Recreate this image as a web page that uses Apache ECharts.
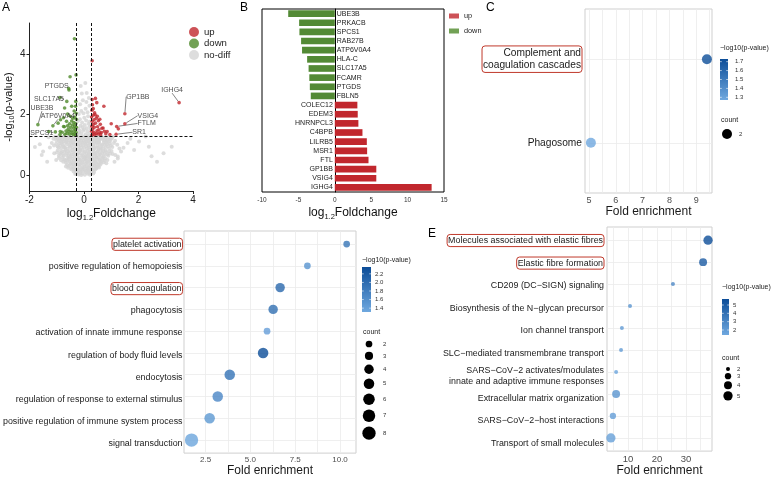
<!DOCTYPE html>
<html><head><meta charset="utf-8">
<script src="https://cdn.jsdelivr.net/npm/echarts@6/dist/echarts.min.js"></script>
<style>html,body{margin:0;padding:0;background:#fff}#c{width:778px;height:478px}</style>
</head><body><div id="c"></div>
<script>
// ================= DATA =================
// Panel A: volcano
const volcanoUp = [[0.30,3.79],[0.30,2.50],[0.42,2.54],[0.73,2.28],[0.31,2.33],[0.39,2.06],[1.26,1.53],[1.0,1.7],[0.85,1.44],[0.70,1.56],[0.64,1.41],[0.95,1.34],
 [0.29,1.32],[0.33,1.37],[0.28,1.45],[0.36,1.42],[0.31,1.52],[0.40,1.33],[0.45,1.38],[0.38,1.58],[0.48,1.47],[0.52,1.36],[0.29,1.62],[0.34,1.68],[0.42,1.72],[0.50,1.60],[0.55,1.50],[0.58,1.40],[0.61,1.33],[0.30,1.78],[0.37,1.83],[0.45,1.88],[0.53,1.80],[0.60,1.68],[0.66,1.55],[0.28,1.92],[0.33,1.98],[0.41,2.00],[0.49,1.95],[0.58,1.85],[0.34,2.20],[0.29,2.15],[0.47,2.40],[0.75,1.45],[0.80,1.37]];
const volcanoDown = [[-0.30,1.32],[-0.33,1.36],[-0.29,1.41],[-0.36,1.45],[-0.31,1.50],[-0.40,1.34],[-0.44,1.39],[-0.38,1.55],[-0.47,1.47],[-0.52,1.35],[-0.28,1.58],[-0.34,1.62],[-0.42,1.66],[-0.49,1.58],[-0.55,1.44],[-0.58,1.52],[-0.62,1.38],[-0.30,1.70],[-0.37,1.74],[-0.45,1.79],[-0.53,1.70],[-0.60,1.63],[-0.66,1.46],[-0.70,1.35],[-0.28,1.85],[-0.33,1.92],[-0.41,1.88],[-0.50,1.95],[-0.64,1.78],[-0.72,1.60],[-0.29,2.05],[-0.36,2.12],[-0.31,2.28],[-0.45,2.28],[-0.30,2.44],[-0.63,2.44],[-0.71,2.22],[-0.60,2.02],[-0.86,1.83],[-0.75,1.90],[-0.95,1.72],[-0.80,1.42],[-1.05,1.43],[-0.87,1.44],[-0.75,1.61],[-0.88,1.34],[-0.55,2.82],[-0.51,3.26],[-0.29,3.32],[-0.35,4.52]];
const volcanoNoDiff = [[-0.32,0.03],[-0.25,0.08],[-0.19,0.02],[-0.13,0.11],[-0.07,0.05],[-0.02,0.13],[0.03,0.01],[0.08,0.09],[0.14,0.04],[0.19,0.12],[0.25,0.06],[0.31,0.14],[-0.28,0.13],[0.11,0.15],[-0.10,0.00],[0.22,0.01],[0.37,0.10],[-0.38,0.12],
 [-0.55,0.30],[-0.47,0.19],[-0.41,0.27],[-0.35,0.17],[-0.30,0.33],[-0.23,0.22],[-0.17,0.30],[-0.11,0.18],[-0.05,0.26],[0.00,0.34],[0.05,0.20],[0.10,0.29],[0.16,0.17],[0.21,0.31],[0.27,0.24],[0.33,0.19],[0.39,0.32],[0.45,0.22],[0.51,0.28],[0.58,0.33],[-0.62,0.34],[-0.20,0.16],[0.13,0.24],[-0.38,0.35],
 [-0.72,0.52],[-0.66,0.41],[-0.59,0.56],[-0.53,0.45],[-0.48,0.38],[-0.43,0.55],[-0.37,0.47],[-0.31,0.40],[-0.26,0.58],[-0.21,0.44],[-0.15,0.51],[-0.09,0.39],[-0.04,0.57],[0.02,0.46],[0.07,0.53],[0.12,0.41],[0.18,0.59],[0.23,0.48],[0.29,0.37],[0.34,0.54],[0.40,0.45],[0.46,0.58],[0.52,0.40],[0.57,0.51],[0.63,0.44],[0.69,0.57],[0.75,0.48],[-0.80,0.58],[0.82,0.39],[-1.35,0.44],[1.12,0.44],[1.24,0.55],[-1.02,0.50],
 [-0.88,0.70],[-0.81,0.78],[-0.75,0.64],[-0.69,0.83],[-0.63,0.72],[-0.57,0.62],[-0.51,0.80],[-0.46,0.68],[-0.40,0.76],[-0.34,0.63],[-0.28,0.84],[-0.22,0.71],[-0.16,0.79],[-0.10,0.65],[-0.05,0.82],[0.01,0.73],[0.06,0.61],[0.12,0.80],[0.17,0.69],[0.22,0.77],[0.28,0.64],[0.33,0.84],[0.39,0.72],[0.44,0.61],[0.50,0.79],[0.56,0.67],[0.61,0.83],[0.67,0.74],[0.73,0.62],[0.79,0.81],[0.86,0.69],[0.93,0.78],[-0.96,0.82],[-1.09,0.72],[-1.50,0.78],[-1.55,0.66],[1.36,0.78],[1.24,0.61],[1.05,0.70],[1.84,0.83],[2.92,0.72],[2.68,0.44],[2.48,0.62],
 [-0.97,0.95],[-0.90,1.05],[-0.84,0.88],[-0.78,1.00],[-0.72,0.92],[-0.66,1.08],[-0.60,0.87],[-0.54,0.98],[-0.48,1.06],[-0.42,0.90],[-0.36,1.02],[-0.30,0.94],[-0.24,1.09],[-0.18,0.86],[-0.12,0.99],[-0.06,1.07],[0.00,0.91],[0.05,1.03],[0.11,0.88],[0.16,0.97],[0.22,1.08],[0.27,0.93],[0.33,1.01],[0.38,0.87],[0.44,1.05],[0.50,0.96],[0.55,1.09],[0.61,0.89],[0.67,1.00],[0.73,1.07],[0.79,0.92],[0.85,1.02],[0.92,0.88],[0.99,0.98],[-1.10,0.98],[-1.25,0.91],[-1.62,1.02],[-1.80,0.93],[1.10,1.06],[1.60,1.06],[2.38,0.94],[3.22,0.94],[2.02,1.11],[1.45,0.90],
 [-0.98,1.22],[-0.92,1.14],[-0.86,1.27],[-0.80,1.18],[-0.74,1.12],[-0.68,1.25],[-0.62,1.16],[-0.56,1.28],[-0.50,1.13],[-0.44,1.21],[-0.38,1.27],[-0.32,1.15],[-0.26,1.24],[-0.20,1.12],[-0.14,1.19],[-0.08,1.28],[-0.02,1.14],[0.04,1.23],[0.09,1.11],[0.15,1.26],[0.20,1.17],[0.26,1.29],[0.32,1.13],[0.37,1.22],[0.43,1.16],[0.49,1.27],[0.54,1.12],[0.60,1.20],[0.66,1.26],[0.72,1.15],[0.78,1.23],[0.84,1.13],[0.91,1.25],[0.98,1.17],[1.06,1.28],[-1.12,1.20],[-1.30,1.25],[2.26,1.28],[1.70,1.20],[-0.72,1.29],[0.12,1.29],
 [-0.24,1.35],[-0.18,1.42],[-0.10,1.38],[-0.03,1.47],[0.05,1.34],[0.12,1.44],[0.19,1.37],[0.24,1.52],[-0.21,1.55],[-0.12,1.63],[-0.05,1.58],[0.03,1.66],[0.10,1.55],[0.17,1.70],[0.22,1.62],[-0.23,1.78],[-0.15,1.85],[-0.07,1.74],[0.01,1.90],[0.08,1.81],[0.15,1.95],[0.21,1.77],[-0.19,2.02],[-0.10,2.12],[-0.02,2.05],[0.06,2.20],[0.13,2.08],[0.20,2.30],[-0.14,2.35],[-0.04,2.48],[0.09,2.42],[0.18,2.55],[-0.08,2.70],[0.10,2.72],[-0.12,2.95],[0.05,3.05],[-0.16,1.48],[0.00,1.52],[0.14,1.28],
 [-0.28,0.06],[-0.21,0.14],[-0.15,0.07],[-0.04,0.18],[0.06,0.13],[0.16,0.08],[0.27,0.17],[0.34,0.05],[-0.36,0.20],[0.41,0.19],
 [-0.58,0.24],[-0.50,0.36],[-0.44,0.23],[-0.33,0.26],[-0.26,0.37],[-0.14,0.35],[-0.08,0.22],[0.02,0.27],[0.08,0.37],[0.19,0.23],[0.24,0.36],[0.30,0.29],[0.36,0.38],[0.42,0.27],[0.48,0.35],[0.55,0.25],[0.62,0.37],[-0.66,0.28],
 [-0.76,0.44],[-0.69,0.49],[-0.62,0.47],[-0.56,0.52],[-0.50,0.59],[-0.45,0.46],[-0.40,0.41],[-0.34,0.58],[-0.28,0.49],[-0.18,0.56],[-0.12,0.47],[-0.06,0.43],[-0.01,0.52],[0.04,0.59],[0.10,0.49],[0.15,0.45],[0.21,0.55],[0.26,0.43],[0.31,0.57],[0.37,0.50],[0.43,0.42],[0.49,0.52],[0.54,0.59],[0.60,0.47],[0.66,0.53],[0.72,0.42],[0.78,0.55],[0.86,0.50],[-0.84,0.49],[-0.92,0.56],
 [-0.92,0.64],[-0.85,0.75],[-0.78,0.70],[-0.72,0.77],[-0.66,0.66],[-0.60,0.79],[-0.54,0.71],[-0.48,0.63],[-0.43,0.82],[-0.37,0.70],[-0.31,0.77],[-0.25,0.66],[-0.19,0.74],[-0.13,0.84],[-0.07,0.70],[-0.02,0.62],[0.03,0.79],[0.09,0.71],[0.14,0.64],[0.20,0.84],[0.25,0.72],[0.31,0.68],[0.36,0.78],[0.42,0.67],[0.47,0.73],[0.53,0.84],[0.59,0.71],[0.64,0.64],[0.70,0.79],[0.76,0.70],[0.82,0.76],[0.89,0.64],[0.96,0.71],[-0.99,0.75],[1.01,0.80],[1.15,0.66],
 [-1.02,1.04],[-0.94,0.92],[-0.87,0.99],[-0.81,1.08],[-0.75,0.95],[-0.69,0.90],[-0.63,1.02],[-0.57,1.08],[-0.51,0.93],[-0.45,1.00],[-0.39,1.08],[-0.33,0.88],[-0.27,1.01],[-0.21,0.96],[-0.15,1.06],[-0.09,0.92],[-0.03,1.00],[0.02,1.09],[0.08,0.95],[0.13,1.05],[0.19,0.91],[0.24,1.02],[0.30,1.08],[0.35,0.95],[0.41,0.92],[0.47,1.09],[0.52,0.90],[0.58,1.03],[0.64,0.95],[0.70,0.88],[0.76,1.00],[0.82,1.09],[0.88,0.95],[0.95,1.05],[1.04,0.93],[-1.18,1.06],[1.22,1.00],[1.30,0.88],
 [-1.01,1.15],[-0.95,1.28],[-0.89,1.20],[-0.83,1.11],[-0.77,1.26],[-0.71,1.19],[-0.65,1.13],[-0.59,1.22],[-0.53,1.27],[-0.47,1.17],[-0.41,1.12],[-0.35,1.24],[-0.29,1.19],[-0.23,1.29],[-0.17,1.24],[-0.11,1.14],[-0.05,1.22],[0.01,1.27],[0.07,1.18],[0.12,1.22],[0.18,1.13],[0.23,1.24],[0.29,1.18],[0.34,1.28],[0.40,1.12],[0.46,1.21],[0.52,1.25],[0.57,1.16],[0.63,1.29],[0.69,1.21],[0.75,1.13],[0.81,1.28],[0.87,1.18],[0.94,1.12],[1.02,1.22],[1.14,1.14],[-1.06,1.27]];
const labeledGenes = ['PTGDS','SLC17A5','UBE3B','ATP6V0A4','SPCS1','GP1BB','IGHG4','VSIG4','FTLM','SR1'];
const labeledFC    = [-0.56,-0.88,-1.69,-1.14,-1.29,1.50,3.49,1.50,1.20,1.18];
const labeledLogP  = [2.87,2.57,1.67,1.63,1.44,2.03,2.40,1.70,1.61,1.35];
const labeledDir   = ['down','down','down','down','down','up','up','up','up','up'];
const volcanoFCcut = 0.268, volcanoPcut = 1.301;
const volcanoXTicks = [-2,0,2,4], volcanoYTicks = [0,2,4];

// Panel B: bar chart
const barGenes  = ['UBE3B','PRKACB','SPCS1','RAB27B','ATP6V0A4','HLA-C','SLC17A5','FCAMR','PTGDS','FBLN5','COLEC12','EDEM3','HNRNPCL3','C4BPB','LILRB5','MSR1','FTL','GP1BB','VSIG4','IGHG4'];
const barValues = [-6.4,-4.9,-4.86,-4.63,-4.5,-3.8,-3.6,-3.5,-3.43,-3.3,3.1,3.15,3.24,3.8,4.4,4.44,4.63,5.7,5.7,13.3];
const barXTicks = [-10,-5,0,5,10,15];

// Panel C: KEGG
const keggTerms = ['Complement and\ncoagulation cascades','Phagosome'];
const keggFE    = [9.4,5.07];
const keggLogP  = [1.73,1.27];
const keggCount = [2,2];
const keggXTicks = [5,6,7,8,9];
const keggBarTicks = [1.3,1.4,1.5,1.6,1.7];

// Panel D: GO
const goTerms = ['platelet activation','positive regulation of hemopoiesis','blood coagulation','phagocytosis','activation of innate immune response','regulation of body fluid levels','endocytosis','regulation of response to external stimulus','positive regulation of immune system process','signal transduction'];
const goFE    = [10.37,8.18,6.66,6.27,5.93,5.71,3.85,3.18,2.73,1.72];
const goLogP  = [1.9,1.55,2.05,1.97,1.42,2.36,1.92,1.7,1.5,1.35];
const goCount = [2,2,4,4,2,5,5,5,5,8];
const goXTicks = [2.5,5,7.5,10];
const goBarTicks = [1.4,1.6,1.8,2.0,2.2];
const goCountTicks = [2,3,4,5,6,7,8];

// Panel E: Reactome
const reTerms = ['Molecules associated with elastic fibres','Elastic fibre formation','CD209 (DC\u2212SIGN) signaling','Biosynthesis of the N\u2212glycan precursor','Ion channel transport','SLC\u2212mediated transmembrane transport','SARS\u2212CoV\u22122 activates/modulates\ninnate and adaptive immune responses','Extracellular matrix organization','SARS\u2212CoV\u22122\u2212host interactions','Transport of small molecules'];
const reFE    = [37.6,35.9,25.5,10.7,7.9,7.6,5.9,5.9,4.8,4.1];
const reLogP  = [5.72,5.1,2.9,2.3,2.0,2.0,1.6,2.3,1.9,1.8];
const reCount = [5,4,2,2,2,2,2,4,3,5];
const reXTicks = [10,20,30];
const reBarTicks = [2,3,4,5];
const reCountTicks = [2,3,4,5];

const boxedTerms = ['Complement and\ncoagulation cascades','platelet activation','blood coagulation','Molecules associated with elastic fibres','Elastic fibre formation'];

// ================= STYLE / LAYOUT =================
const FONT = 'Liberation Sans, Arial, sans-serif';
const RED = '#c1272d', GREEN = '#4f8a2b', GRAY = '#d4d4d4';
const BLUE_LO = '#6fa8df', BLUE_HI = '#0c4d98';
const GRIDC = '#ebebeb', FRAMEC = '#cfcfcf';
const labelOffsets = [[-12,-2],[-11,2],[4,-17],[5,-10],[-7,1],[13,-17],[-7,-13],[23,-8],[30,-3],[23,-2]];

const sizeC = c => 10;
const sizeD = c => Math.sqrt(45 + (c - 2) * 22);
const sizeE = c => Math.sqrt(16 + (c - 2) * 23.5);

const P = {
  A: {left: 27, top: 23, width: 166, height: 168},
  B: {left: 262, top: 9, width: 182, height: 183},
  C: {left: 585, top: 9, width: 127, height: 184},
  D: {left: 184, top: 231, width: 172, height: 226},
  E: {left: 607, top: 227, width: 105, height: 230}
};
function inner(p, n) { const ins = p.height / (n + 0.2) * 0.1; return {left: p.left, top: p.top + ins, width: p.width, height: p.height - 2 * ins}; }

const boxStyle = {borderColor: '#c0392b', borderWidth: 1, borderRadius: 3, padding: [1, 1, 0, 1]};
const catItems = terms => terms.map(t => boxedTerms.includes(t) ? {value: t, textStyle: boxStyle} : t);
function range(n) { return Array.from({length: n}, (_, i) => i); }
function minors(ticks, step) { const out = []; ticks.forEach(t => { out.push(t - step / 2, t); }); out.push(ticks[ticks.length - 1] + step / 2); return out; }

function frameX(p, gi, min, max, ticks, step, fmt, labelSize) {
  return {gridIndex: gi, type: 'value', min, max,
    axisLine: {show: false, onZero: false}, axisTick: {show: false, customValues: minors(ticks, step)},
    axisLabel: {customValues: ticks, fontSize: labelSize, color: '#4d4d4d', fontFamily: FONT, margin: 3, formatter: fmt},
    splitLine: {show: true, lineStyle: {color: GRIDC, width: 0.8}},
    name: 'Fold enrichment', nameLocation: 'middle', nameGap: 10,
    nameTextStyle: {fontSize: 12, color: '#1a1a1a', fontFamily: FONT}};
}
function hiddenX(gi, min, max) { return {gridIndex: gi, type: 'value', min, max, show: false}; }
function frameY(gi, n) {
  return {gridIndex: gi, type: 'value', min: -0.6, max: n - 0.4, inverse: true,
    axisLine: {show: false, onZero: false}, axisTick: {show: false, customValues: range(n)}, axisLabel: {show: false, customValues: range(n)},
    splitLine: {show: true, lineStyle: {color: GRIDC, width: 0.8}}};
}
function labelY(gi, terms, fs) {
  return {gridIndex: gi, type: 'category', data: catItems(terms), inverse: true,
    axisLine: {show: false}, axisTick: {show: false}, splitLine: {show: false},
    axisLabel: {fontSize: fs, color: '#1a1a1a', fontFamily: FONT, margin: 3, lineHeight: fs * 1.25}};
}

const grids = [P.A, P.B, P.C, inner(P.C, keggTerms.length), P.D, inner(P.D, goTerms.length), P.E, inner(P.E, reTerms.length)];
grids.forEach(g => g.containLabel = false);
grids[1] = Object.assign({}, P.B, {show: true, borderColor: '#000', borderWidth: 1, backgroundColor: 'transparent'});
grids[2] = Object.assign({}, P.C, {show: true, borderColor: FRAMEC, borderWidth: 1, backgroundColor: 'transparent'});
grids[4] = Object.assign({}, P.D, {show: true, borderColor: FRAMEC, borderWidth: 1, backgroundColor: 'transparent'});
grids[6] = Object.assign({}, P.E, {show: true, borderColor: FRAMEC, borderWidth: 1, backgroundColor: 'transparent'});

const subRich = {sub: {fontSize: 7.5, lineHeight: 8, verticalAlign: 'bottom', fontFamily: FONT}};
const xAxes = [
  {gridIndex: 0, type: 'value', min: -2, max: 4, interval: 2,
   axisLine: {onZero: false, lineStyle: {color: '#222'}}, axisTick: {length: 3, lineStyle: {color: '#222'}},
   axisLabel: {fontSize: 10, color: '#222', fontFamily: FONT, margin: 4}, splitLine: {show: false},
   name: 'log{sub|1.2}Foldchange', nameLocation: 'middle', nameGap: 12,
   nameTextStyle: {fontSize: 12, color: '#111', fontFamily: FONT, lineHeight: 16, rich: subRich}},
  {gridIndex: 1, type: 'value', min: -10, max: 15, interval: 5,
   axisLine: {onZero: false, lineStyle: {color: '#000'}}, axisTick: {length: 2, lineStyle: {color: '#000'}},
   axisLabel: {fontSize: 6.5, color: '#333', fontFamily: FONT, margin: 5}, splitLine: {show: false},
   name: 'log{sub|1.2}Foldchange', nameLocation: 'middle', nameGap: 12,
   nameTextStyle: {fontSize: 12, color: '#111', fontFamily: FONT, lineHeight: 16, rich: subRich}},
  frameX(P.C, 2, 4.85, 9.59, keggXTicks, 1, v => String(v), 9),
  hiddenX(3, 4.85, 9.59),
  frameX(P.D, 4, 1.30, 10.89, goXTicks, 2.5, v => v.toFixed(1), 8),
  hiddenX(5, 1.30, 10.89),
  frameX(P.E, 6, 2.76, 38.97, reXTicks, 10, v => String(v), 9.5),
  hiddenX(7, 2.76, 38.97)
];
const yAxes = [
  {gridIndex: 0, type: 'value', min: -0.53, max: 5.04,
   axisLine: {show: true, onZero: false, lineStyle: {color: '#222'}}, axisTick: {show: true, length: 3, customValues: volcanoYTicks, lineStyle: {color: '#222'}},
   axisLabel: {customValues: volcanoYTicks, fontSize: 10, color: '#222', fontFamily: FONT, margin: 4}, splitLine: {show: false},
   name: '-log{sub|10}(p-value)', nameLocation: 'middle', nameGap: 13, nameRotate: 90,
   nameTextStyle: {fontSize: 11, color: '#111', fontFamily: FONT, lineHeight: 15, rich: {sub: {fontSize: 7, lineHeight: 7, verticalAlign: 'bottom', fontFamily: FONT}}}},
  {gridIndex: 1, type: 'category', data: barGenes, inverse: true,
   axisLine: {show: true, onZero: true, lineStyle: {color: '#000'}}, axisTick: {show: false}, axisLabel: {show: false}, splitLine: {show: false}},
  frameY(2, keggTerms.length), labelY(3, keggTerms, 10.2),
  frameY(4, goTerms.length), labelY(5, goTerms, 8.9),
  frameY(6, reTerms.length), labelY(7, reTerms, 8.9)
];

const enrichData = (fe, lp, cnt) => fe.map((v, i) => [v, i, lp[i], cnt[i]]);

const series = [
  {type: 'scatter', name: 'no-diff', xAxisIndex: 0, yAxisIndex: 0, data: volcanoNoDiff, symbolSize: 4, itemStyle: {color: GRAY}, silent: true,
   markLine: {silent: true, symbol: 'none', label: {show: false}, lineStyle: {color: '#111', type: [3, 2], width: 1},
     data: [{xAxis: -volcanoFCcut}, {xAxis: volcanoFCcut}, {yAxis: volcanoPcut}]}},
  {type: 'scatter', name: 'down', xAxisIndex: 0, yAxisIndex: 0, data: volcanoDown, symbolSize: 3.6, itemStyle: {color: GREEN}},
  {type: 'scatter', name: 'up', xAxisIndex: 0, yAxisIndex: 0, data: volcanoUp, symbolSize: 3.6, itemStyle: {color: RED}},
  {type: 'scatter', name: 'labeled', xAxisIndex: 0, yAxisIndex: 0, symbolSize: 3.6,
   data: labeledGenes.map((g, i) => ({name: g, value: [labeledFC[i], labeledLogP[i]], itemStyle: {color: labeledDir[i] === 'up' ? RED : GREEN}})),
   label: {show: true, position: 'inside', formatter: '{b}', fontSize: 7, color: '#222', fontFamily: FONT},
   labelLine: {show: true, lineStyle: {color: '#333', width: 0.6}},
   labelLayout: p => ({dx: labelOffsets[p.dataIndex][0], dy: labelOffsets[p.dataIndex][1], hideOverlap: false})},
  {type: 'bar', name: 'up', xAxisIndex: 1, yAxisIndex: 1, stack: 'b', barCategoryGap: '27%',
   data: barValues.map(v => v > 0 ? v : '-'), itemStyle: {color: RED},
   label: {show: true, position: 'left', distance: 2, formatter: '{b}', fontSize: 7, color: '#222', fontFamily: FONT}},
  {type: 'bar', name: 'down', xAxisIndex: 1, yAxisIndex: 1, stack: 'b', barCategoryGap: '27%',
   data: barValues.map(v => v < 0 ? v : '-'), itemStyle: {color: '#538a35'},
   label: {show: true, position: 'right', distance: 2, formatter: '{b}', fontSize: 7, color: '#222', fontFamily: FONT}},
  {type: 'scatter', name: 'kegg', xAxisIndex: 2, yAxisIndex: 2, data: enrichData(keggFE, keggLogP, keggCount), symbolSize: v => sizeC(v[3])},
  {type: 'scatter', name: 'go', xAxisIndex: 4, yAxisIndex: 4, data: enrichData(goFE, goLogP, goCount), symbolSize: v => sizeD(v[3])},
  {type: 'scatter', name: 're', xAxisIndex: 6, yAxisIndex: 6, data: enrichData(reFE, reLogP, reCount), symbolSize: v => sizeE(v[3])}
];

const visualMap = [
  {type: 'continuous', show: false, seriesIndex: 6, dimension: 2, min: 1.27, max: 1.73, inRange: {color: [BLUE_LO, BLUE_HI]}},
  {type: 'continuous', show: false, seriesIndex: 7, dimension: 2, min: 1.31, max: 2.36, inRange: {color: [BLUE_LO, BLUE_HI]}},
  {type: 'continuous', show: false, seriesIndex: 8, dimension: 2, min: 1.4, max: 5.72, inRange: {color: [BLUE_LO, BLUE_HI]}}
];

// ---- graphic legends ----
const graphic = [];
const txt = (text, x, y, size, opt) => graphic.push(Object.assign({type: 'text', silent: true, style: Object.assign({text, x, y, font: size + 'px ' + FONT, fill: '#1a1a1a', align: 'left', verticalAlign: 'middle'}, opt || {})}));
txt('A', 2, 8, 12, {fill: '#000'}); txt('B', 240, 8, 12, {fill: '#000'}); txt('C', 486, 8, 12, {fill: '#000'});
txt('D', 1, 234, 12, {fill: '#000'}); txt('E', 428, 234, 12, {fill: '#000'});

function colorbar(x, y, w, h, lo, hi, ticks, labelX, titleY, fmt) {
  graphic.push({type: 'rect', silent: true, shape: {x, y, width: w, height: h},
    style: {fill: new echarts.graphic.LinearGradient(0, 0, 0, 1, [{offset: 0, color: BLUE_HI}, {offset: 1, color: BLUE_LO}])}});
  ticks.forEach(t => {
    const ty = y + (hi - t) / (hi - lo) * h;
    graphic.push({type: 'line', silent: true, shape: {x1: x, y1: ty, x2: x + 1.8, y2: ty}, style: {stroke: '#fff', lineWidth: 0.6}});
    graphic.push({type: 'line', silent: true, shape: {x1: x + w - 1.8, y1: ty, x2: x + w, y2: ty}, style: {stroke: '#fff', lineWidth: 0.6}});
    txt(fmt(t), labelX, ty, 6, {fill: '#333'});
  });
  txt('\u2212log10(p-value)', x, titleY, 7, {fill: '#222'});
}
function countLegend(x, yTitle, y0, counts, sizeFn, gap, labelX) {
  txt('count', x - 6, yTitle, 7, {fill: '#222'});
  let y = y0, prev = null;
  counts.forEach(c => {
    const d = sizeFn(c);
    if (prev !== null) y += (prev + d) / 2 + gap;
    graphic.push({type: 'circle', silent: true, shape: {cx: x, cy: y, r: d / 2}, style: {fill: '#000'}});
    txt(String(c), labelX, y, 6, {fill: '#333'});
    prev = d;
  });
}
colorbar(720, 59, 8, 41, 1.27, 1.73, keggBarTicks, 735, 48, v => v.toFixed(1));
countLegend(727, 120, 134, [2], sizeC, 0, 739);
colorbar(362, 267, 9, 45, 1.31, 2.36, goBarTicks, 375, 260, v => v.toFixed(1));
countLegend(369, 332, 344, goCountTicks, sizeD, 4.5, 383);
colorbar(722, 299, 7, 36, 1.4, 5.72, reBarTicks, 733, 287, v => String(v));
countLegend(728, 358, 369, reCountTicks, sizeE, 2, 737);

const option = {
  animation: false,
  backgroundColor: '#fff',
  textStyle: {fontFamily: FONT},
  grid: grids,
  xAxis: xAxes,
  yAxis: yAxes,
  legend: [
    {data: ['up', 'down', 'no-diff'], orient: 'vertical', left: 189, top: 27, icon: 'circle', itemWidth: 10, itemHeight: 10, itemGap: 1.5,
     textStyle: {fontSize: 9.6, color: '#222', fontFamily: FONT}, selectedMode: false, padding: 0},
    {data: ['up', 'down'], orient: 'vertical', left: 449, top: 12.5, icon: 'rect', itemWidth: 10, itemHeight: 5, itemGap: 8,
     textStyle: {fontSize: 7.3, color: '#222', fontFamily: FONT}, selectedMode: false, padding: 0}
  ],
  visualMap,
  series,
  graphic
};
const chart = echarts.init(document.getElementById('c'), null, {renderer: 'canvas'});
chart.setOption(option);
</script></body></html>
